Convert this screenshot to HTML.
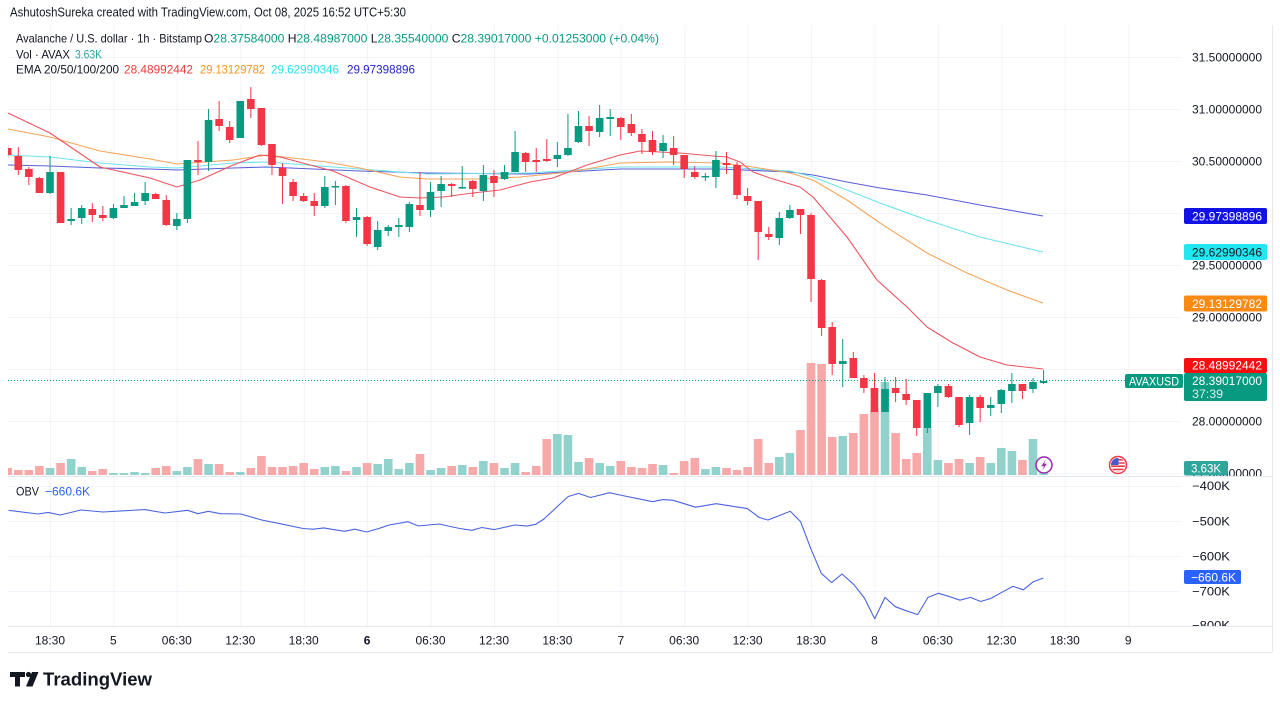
<!DOCTYPE html>
<html><head><meta charset="utf-8"><style>
html,body{margin:0;padding:0;background:#fff;width:1280px;height:706px;overflow:hidden}
svg{display:block;font-family:"Liberation Sans",Arial,sans-serif}
</style></head><body>
<svg width="1280" height="706" viewBox="0 0 1280 706" xmlns="http://www.w3.org/2000/svg">
<defs>
<clipPath id="mp"><rect x="8" y="25" width="1172" height="451"/></clipPath>
<clipPath id="op"><rect x="8" y="477" width="1172" height="149"/></clipPath>
<clipPath id="fl"><circle cx="1118" cy="465" r="7"/></clipPath>
</defs>
<rect width="1280" height="706" fill="#fff"/>
<!-- gridlines -->
<g stroke="#f0f3fa" stroke-width="1">
<path d="M8,57.5H1180M8,109.5H1180M8,161.5H1180M8,213.5H1180M8,265.5H1180M8,317.5H1180M8,369.5H1180M8,421.5H1180M8,473.5H1180"/>
<path d="M8,486.5H1180M8,521.5H1180M8,556.5H1180M8,591.5H1180"/>
<path d="M50.5,25V626M113.9,25V626M177.3,25V626M240.8,25V626M304.2,25V626M367.6,25V626M431,25V626M494.5,25V626M557.9,25V626M621.3,25V626M684.7,25V626M748.1,25V626M811.6,25V626M875,25V626M938.4,25V626M1001.9,25V626M1065.3,25V626M1128.7,25V626"/>
</g>
<g stroke="#e6e9ef" stroke-width="1">
<path d="M8,626.5H1272"/>
<path d="M8,476.5H1272"/>
<path d="M1272.5,25V652"/>
<path d="M8,652.5H1272"/>
</g>
<!-- header -->
<text x="10" y="16.5" font-size="13" fill="#131722" textLength="396" lengthAdjust="spacingAndGlyphs">AshutoshSureka created with TradingView.com, Oct 08, 2025 16:52 UTC+5:30</text>
<text x="16" y="42.3" font-size="12" fill="#131722" textLength="186" lengthAdjust="spacingAndGlyphs">Avalanche / U.S. dollar · 1h · Bitstamp</text>
<text x="204" y="42.3" font-size="12" fill="#089981" textLength="455" lengthAdjust="spacingAndGlyphs"><tspan fill="#131722">O</tspan>28.37584000 <tspan fill="#131722">H</tspan>28.48987000 <tspan fill="#131722">L</tspan>28.35540000 <tspan fill="#131722">C</tspan>28.39017000 +0.01253000 (+0.04%)</text>
<text x="16" y="58.3" font-size="12" fill="#131722" textLength="54" lengthAdjust="spacingAndGlyphs">Vol · AVAX</text>
<text x="75" y="58.3" font-size="12" fill="#26a69a" textLength="27" lengthAdjust="spacingAndGlyphs">3.63K</text>
<text x="16" y="73.3" font-size="12" fill="#131722" textLength="103" lengthAdjust="spacingAndGlyphs">EMA 20/50/100/200</text>
<text x="124" y="73.3" font-size="12" fill="#f23a3a" textLength="69" lengthAdjust="spacingAndGlyphs">28.48992442</text>
<text x="200" y="73.3" font-size="12" fill="#f7941d" textLength="65" lengthAdjust="spacingAndGlyphs">29.13129782</text>
<text x="271" y="73.3" font-size="12" fill="#2ee0ea" textLength="68" lengthAdjust="spacingAndGlyphs">29.62990346</text>
<text x="347" y="73.3" font-size="12" fill="#2424cc" textLength="68" lengthAdjust="spacingAndGlyphs">29.97398896</text>

<g clip-path="url(#mp)">
<!-- volume green -->
<path fill="#92d2cc" d="M45.7,468h8.6V475h-8.6zM66.84,459h8.6V475h-8.6zM77.41,467h8.6V475h-8.6zM109.12,473h8.6V475h-8.6zM119.69,473h8.6V475h-8.6zM130.26,472h8.6V475h-8.6zM140.83,473h8.6V475h-8.6zM172.54,471h8.6V475h-8.6zM183.11,467h8.6V475h-8.6zM204.25,464h8.6V475h-8.6zM235.96,472h8.6V475h-8.6zM320.52,467h8.6V475h-8.6zM331.09,466h8.6V475h-8.6zM352.23,467h8.6V475h-8.6zM373.37,464h8.6V475h-8.6zM383.94,459h8.6V475h-8.6zM394.51,469h8.6V475h-8.6zM405.08,463h8.6V475h-8.6zM426.22,470h8.6V475h-8.6zM436.79,468h8.6V475h-8.6zM457.93,465h8.6V475h-8.6zM479.07,461h8.6V475h-8.6zM500.21,468h8.6V475h-8.6zM510.78,463h8.6V475h-8.6zM553.06,434h8.6V475h-8.6zM563.63,435h8.6V475h-8.6zM574.2,462h8.6V475h-8.6zM595.34,463h8.6V475h-8.6zM605.91,466h8.6V475h-8.6zM658.76,465h8.6V475h-8.6zM701.04,469h8.6V475h-8.6zM711.61,467h8.6V475h-8.6zM775.03,457h8.6V475h-8.6zM785.6,453h8.6V475h-8.6zM838.45,436h8.6V475h-8.6zM880.73,382h8.6V475h-8.6zM923.01,428h8.6V475h-8.6zM933.58,460h8.6V475h-8.6zM965.29,463h8.6V475h-8.6zM986.43,463h8.6V475h-8.6zM997,448h8.6V475h-8.6zM1007.57,451h8.6V475h-8.6zM1028.71,439h8.6V475h-8.6zM1039.28,472h8.6V475h-8.6z"/>
<!-- volume red -->
<path fill="#f7a8a8" d="M3.42,468h8.6V475h-8.6zM13.99,470h8.6V475h-8.6zM24.56,470h8.6V475h-8.6zM35.13,466h8.6V475h-8.6zM56.27,463h8.6V475h-8.6zM87.98,471h8.6V475h-8.6zM98.55,469h8.6V475h-8.6zM151.4,468h8.6V475h-8.6zM161.97,466h8.6V475h-8.6zM193.68,459h8.6V475h-8.6zM214.82,464h8.6V475h-8.6zM225.39,472h8.6V475h-8.6zM246.53,468h8.6V475h-8.6zM257.1,456h8.6V475h-8.6zM267.67,467h8.6V475h-8.6zM278.24,467h8.6V475h-8.6zM288.81,466h8.6V475h-8.6zM299.38,463h8.6V475h-8.6zM309.95,469h8.6V475h-8.6zM341.66,471h8.6V475h-8.6zM362.8,463h8.6V475h-8.6zM415.65,454h8.6V475h-8.6zM447.36,466h8.6V475h-8.6zM468.5,467h8.6V475h-8.6zM489.64,463h8.6V475h-8.6zM521.35,472h8.6V475h-8.6zM531.92,466h8.6V475h-8.6zM542.49,439h8.6V475h-8.6zM584.77,458h8.6V475h-8.6zM616.48,461h8.6V475h-8.6zM627.05,467h8.6V475h-8.6zM637.62,468h8.6V475h-8.6zM648.19,464h8.6V475h-8.6zM669.33,473h8.6V475h-8.6zM679.9,461h8.6V475h-8.6zM690.47,458h8.6V475h-8.6zM722.18,468h8.6V475h-8.6zM732.75,470h8.6V475h-8.6zM743.32,467h8.6V475h-8.6zM753.89,439h8.6V475h-8.6zM764.46,463h8.6V475h-8.6zM796.17,430h8.6V475h-8.6zM806.74,363h8.6V475h-8.6zM817.31,364h8.6V475h-8.6zM827.88,437h8.6V475h-8.6zM849.02,433h8.6V475h-8.6zM859.59,414h8.6V475h-8.6zM870.16,411h8.6V475h-8.6zM891.3,433h8.6V475h-8.6zM901.87,459h8.6V475h-8.6zM912.44,453h8.6V475h-8.6zM944.15,463h8.6V475h-8.6zM954.72,459h8.6V475h-8.6zM975.86,457h8.6V475h-8.6zM1018.14,460h8.6V475h-8.6z"/>
<!-- EMA lines -->
<g fill="none" stroke-width="1.1" stroke-linejoin="round">
<polyline stroke="#5a5ed8" points="8,165 50,166 100,168 150,169 177,170 233,168 267,167 360,171 427,173 530,174 620,169 720,169 790,172 813,175 847,182 880,188 927,195 980,205 1043,216"/>
<polyline stroke="#6fe2ec" points="8,155 50,157 100,163 150,167 177,168 233,163 267,162 360,169 427,174 530,173 620,167 720,167 790,171 813,177 847,190 880,203 927,220 980,237 1043,252"/>
<polyline stroke="#f5a55a" points="8,129 50,137 100,151 150,159 177,164 233,160 267,155 327,162 360,168 400,177 427,179 477,179 520,177 570,172 620,163 670,162 720,163 753,167 790,173 813,180 847,200 880,223 927,253 967,273 1007,290 1043,303"/>
<polyline stroke="#ee5560" points="8,113 50,133 100,167 150,178 177,187 200,180 233,165 260,155 280,157 333,171 370,187 400,197 420,198 443,197 473,193 500,190 530,182 553,178 587,165 620,155 640,151 660,152 680,153 713,156 727,157 740,162 753,172 770,178 790,184 800,187 813,197 847,237 877,280 907,307 927,327 953,343 980,357 1007,365 1043,369"/>
</g>
<!-- price line -->
<path d="M8,380.5H1125" stroke="#089981" stroke-width="1" stroke-dasharray="1,2"/>
<!-- wicks -->
<path stroke="#089981" stroke-width="1" d="M50,156V194M71.14,208V225M81.71,205V224M113.42,204V219M123.99,196V208M134.56,193V206M145.13,182V205M176.84,213V230M187.41,160V223M208.55,109V171M240.26,101V138M324.82,176V208M335.39,181V205M356.53,208V237M377.67,221V250M388.24,225V236M398.81,218V237M409.38,202V232M430.52,182V217M441.09,176V207M462.23,166V189M483.37,165V201M504.51,165V180M515.08,131V172M557.36,142V167M567.93,114V156M578.5,111V143M599.64,105V137M610.21,109V136M663.06,135V158M705.34,173V181M715.91,151V188M779.33,212V245M789.9,205V219M842.75,339V387M885.03,377V412M927.31,393V433M937.88,384V407M969.59,395V435M990.73,397V416M1001.3,389V413M1011.87,373V403M1033.01,378V393M1043.58,370V384"/>
<path stroke="#f23645" stroke-width="1" d="M7.72,145V158M18.29,147V175M28.86,167V185M39.43,177V193M60.57,172V223M92.28,203V222M102.85,206V221M155.7,193V199M166.27,195V226M197.98,141V175M219.12,101V131M229.69,121V143M250.83,87V118M261.4,108V146M271.97,144V175M282.54,163V204M293.11,179V201M303.68,193V202M314.25,193V216M345.96,185V223M367.1,216V246M419.95,172V216M451.66,183V197M472.8,180V197M493.94,170V197M525.65,152V172M536.22,148V172M546.79,139V162M589.07,116V146M620.78,117V140M631.35,114V136M641.92,129V154M652.49,131V155M673.63,136V165M684.2,155V178M694.77,166V179M726.48,152V174M737.05,162V199M747.62,188V205M758.19,201V260M768.76,227V240M800.47,209V234M811.04,213V302M821.61,279V336M832.18,322V375M853.32,352V378M863.89,375V393M874.46,373V412M895.6,377V402M906.17,379V405M916.74,400V436M948.45,384V398M959.02,397V427M980.16,395V422M1022.44,384V399"/>
<!-- bodies -->
<path fill="#089981" d="M46.2,172h7.6v21h-7.6zM67.34,219h7.6v2h-7.6zM77.91,208h7.6v10h-7.6zM109.62,208h7.6v10h-7.6zM120.19,205h7.6v3h-7.6zM130.76,202h7.6v4h-7.6zM141.33,193h7.6v8h-7.6zM173.04,219h7.6v7h-7.6zM183.61,160h7.6v59h-7.6zM204.75,120h7.6v42h-7.6zM236.46,101h7.6v37h-7.6zM321.02,187h7.6v19h-7.6zM331.59,186h7.6v1.5h-7.6zM352.73,217h7.6v3h-7.6zM373.87,230h7.6v17h-7.6zM384.44,227h7.6v4h-7.6zM395.01,225h7.6v2h-7.6zM405.58,204h7.6v23h-7.6zM426.72,192h7.6v18h-7.6zM437.29,184h7.6v7h-7.6zM458.43,187h7.6v1.5h-7.6zM479.57,175h7.6v16h-7.6zM500.71,172h7.6v7h-7.6zM511.28,152h7.6v20h-7.6zM553.56,155h7.6v4h-7.6zM564.13,148h7.6v7h-7.6zM574.7,126h7.6v16h-7.6zM595.84,118h7.6v14h-7.6zM606.41,117h7.6v2h-7.6zM659.26,143h7.6v8h-7.6zM701.54,176h7.6v1.5h-7.6zM712.11,160h7.6v17h-7.6zM775.53,218h7.6v20h-7.6zM786.1,210h7.6v8h-7.6zM838.95,361h7.6v3h-7.6zM881.23,389h7.6v23h-7.6zM923.51,393h7.6v35h-7.6zM934.08,386h7.6v7h-7.6zM965.79,397h7.6v26h-7.6zM986.93,405h7.6v3h-7.6zM997.5,390h7.6v14h-7.6zM1008.07,384h7.6v7h-7.6zM1029.21,382h7.6v7h-7.6zM1039.78,381h7.6v2h-7.6z"/>
<path fill="#f23645" d="M3.92,148h7.6v7h-7.6zM14.49,156h7.6v14h-7.6zM25.06,169h7.6v8h-7.6zM35.63,178h7.6v15h-7.6zM56.77,172h7.6v51h-7.6zM88.48,209h7.6v6h-7.6zM99.05,215h7.6v3h-7.6zM151.9,194h7.6v5h-7.6zM162.47,200h7.6v25h-7.6zM194.18,160h7.6v2h-7.6zM215.32,119h7.6v7h-7.6zM225.89,127h7.6v13h-7.6zM247.03,99h7.6v10h-7.6zM257.6,108h7.6v37h-7.6zM268.17,144h7.6v21h-7.6zM278.74,168h7.6v8h-7.6zM289.31,182h7.6v14h-7.6zM299.88,196h7.6v5h-7.6zM310.45,201h7.6v5h-7.6zM342.16,186h7.6v35h-7.6zM363.3,217h7.6v27h-7.6zM416.15,205h7.6v5h-7.6zM447.86,184h7.6v2h-7.6zM469,181h7.6v8h-7.6zM490.14,176h7.6v7h-7.6zM521.85,153h7.6v9h-7.6zM532.42,160h7.6v2h-7.6zM542.99,159h7.6v2h-7.6zM585.27,126h7.6v5h-7.6zM616.98,118h7.6v9h-7.6zM627.55,124h7.6v9h-7.6zM638.12,134h7.6v8h-7.6zM648.69,140h7.6v12h-7.6zM669.83,148h7.6v7h-7.6zM680.4,155h7.6v14h-7.6zM690.97,172h7.6v5h-7.6zM722.68,163h7.6v2h-7.6zM733.25,165h7.6v30h-7.6zM743.82,196h7.6v5h-7.6zM754.39,201h7.6v31h-7.6zM764.96,234h7.6v3h-7.6zM796.67,209h7.6v6h-7.6zM807.24,215h7.6v64h-7.6zM817.81,280h7.6v48h-7.6zM828.38,327h7.6v37h-7.6zM849.52,358h7.6v20h-7.6zM860.09,378h7.6v10h-7.6zM870.66,388h7.6v24h-7.6zM891.8,388h7.6v5h-7.6zM902.37,394h7.6v6h-7.6zM912.94,400h7.6v28h-7.6zM944.65,386h7.6v11h-7.6zM955.22,397h7.6v28h-7.6zM976.36,397h7.6v11h-7.6zM1018.64,384h7.6v7h-7.6z"/>
<!-- icons -->
<circle cx="1044" cy="465" r="8" fill="#fff" stroke="#9c27b0" stroke-width="1.5"/>
<path d="M1045.8,459.5L1041.3,466.2H1044L1042.3,470.6L1046.8,463.8H1044.2Z" fill="#9c27b0"/>
<circle cx="1118" cy="465" r="8.5" fill="#fff" stroke="#f23645" stroke-width="1.5"/>
<g clip-path="url(#fl)">
<path d="M1110,459h16v1.6h-16zM1110,462.2h16v1.6h-16zM1110,465.4h16v1.6h-16zM1110,468.6h16v1.6h-16zM1110,471.8h16v1.6h-16z" fill="#f23645"/>
<rect x="1110" y="457" width="8.5" height="8" fill="#3f5bd0"/>
</g>
</g>

<!-- main price axis labels -->
<g font-size="12" fill="#131722">
<text x="1192" y="61.3" textLength="70" lengthAdjust="spacingAndGlyphs">31.50000000</text>
<text x="1192" y="113.3" textLength="70" lengthAdjust="spacingAndGlyphs">31.00000000</text>
<text x="1192" y="165.3" textLength="70" lengthAdjust="spacingAndGlyphs">30.50000000</text>
<text x="1192" y="269.3" textLength="70" lengthAdjust="spacingAndGlyphs">29.50000000</text>
<text x="1192" y="321.3" textLength="70" lengthAdjust="spacingAndGlyphs">29.00000000</text>
<text x="1192" y="425.3" textLength="70" lengthAdjust="spacingAndGlyphs">28.00000000</text>
</g>
<svg x="1180" y="440" width="100" height="36"><text x="12" y="37.3" font-size="12" fill="#131722" textLength="70" lengthAdjust="spacingAndGlyphs">27.50000000</text></svg>
<!-- boxes -->
<rect x="1184" y="208" width="83" height="16" rx="2" fill="#1212e6"/>
<text x="1192" y="220.3" font-size="12" fill="#fff" textLength="70" lengthAdjust="spacingAndGlyphs">29.97398896</text>
<rect x="1184" y="244" width="83" height="16" rx="2" fill="#22e6f0"/>
<text x="1192" y="256.3" font-size="12" fill="#131722" textLength="70" lengthAdjust="spacingAndGlyphs">29.62990346</text>
<rect x="1184" y="295.5" width="83" height="16" rx="2" fill="#f98a14"/>
<text x="1192" y="307.8" font-size="12" fill="#fff" textLength="70" lengthAdjust="spacingAndGlyphs">29.13129782</text>
<rect x="1184" y="358" width="83" height="15" rx="2" fill="#f70f0f"/>
<text x="1192" y="369.5" font-size="12" fill="#fff" textLength="70" lengthAdjust="spacingAndGlyphs">28.48992442</text>
<rect x="1184" y="373" width="83" height="28" rx="2" fill="#089981"/>
<text x="1192" y="384.8" font-size="12" fill="#fff" textLength="70" lengthAdjust="spacingAndGlyphs">28.39017000</text>
<text x="1192" y="398" font-size="12" fill="#d8f0ec" textLength="31" lengthAdjust="spacingAndGlyphs">37:39</text>
<rect x="1125" y="374" width="58" height="14" rx="2" fill="#089981"/>
<text x="1129" y="385.3" font-size="12" fill="#fff" textLength="50" lengthAdjust="spacingAndGlyphs">AVAXUSD</text>
<rect x="1184" y="461" width="44" height="14.5" rx="2" fill="#2ea69b"/>
<text x="1191" y="472.5" font-size="12" fill="#fff" textLength="30" lengthAdjust="spacingAndGlyphs">3.63K</text>

<!-- OBV pane -->
<text x="16" y="495.3" font-size="12" fill="#131722" textLength="23" lengthAdjust="spacingAndGlyphs">OBV</text>
<text x="45" y="495.3" font-size="12" fill="#2962ff" textLength="45" lengthAdjust="spacingAndGlyphs">−660.6K</text>
<g clip-path="url(#op)">
<polyline fill="none" stroke="#4a64e0" stroke-width="1.1" stroke-linejoin="round" points="8.6,510.3 37.9,514 48.2,512.4 60.3,515 81,510 103,512 144.6,509.6 165,513 187.7,510.3 198,513.7 208.3,511.3 220.4,513.7 241,514 261.7,520 279,523.4 303,528.5 313.4,529.2 323.7,527.9 344.4,531.3 354.7,529.2 366.7,532 378.8,528.5 389,525 408,521.7 418.4,526 439,524 459.7,528.5 471.8,530.3 482,527.5 494,529.6 514.8,525 526.9,526.1 535.5,524.4 544,519 557.9,506 568.2,496.5 578.5,493.4 590.6,497.5 609.5,492.7 619.9,495 652.6,501.7 663,499.6 673.2,500.3 695.6,507.2 716.3,503.7 747.3,508.6 759.3,517.5 768,520 790.3,511.3 800.6,521.7 811,549.2 821.3,573.3 831.6,582.6 842,574 854,584.7 864.4,598 874.7,618.8 885,597.4 895.3,606.7 907.4,611.2 917.7,614.6 928,597.4 938.4,593.3 948.7,596.4 960,600.2 970.4,597.4 980.7,601.5 991,598.4 1002,592.2 1013,586.4 1023.4,589.8 1033,581.9 1043.4,578"/>
</g>
<g font-size="12" fill="#131722">
<text x="1192" y="490" textLength="38" lengthAdjust="spacingAndGlyphs">−400K</text>
<text x="1192" y="525.3" textLength="38" lengthAdjust="spacingAndGlyphs">−500K</text>
<text x="1192" y="560.3" textLength="38" lengthAdjust="spacingAndGlyphs">−600K</text>
<text x="1192" y="595.3" textLength="38" lengthAdjust="spacingAndGlyphs">−700K</text>
</g>
<svg x="1180" y="610" width="100" height="16"><text x="12" y="19.5" font-size="12" fill="#131722" textLength="38" lengthAdjust="spacingAndGlyphs">−800K</text></svg>
<rect x="1184" y="570" width="57" height="14" rx="2" fill="#2962ff"/>
<text x="1191" y="581.3" font-size="12" fill="#fff" textLength="45" lengthAdjust="spacingAndGlyphs">−660.6K</text>

<!-- time axis -->
<g font-size="12" fill="#131722" text-anchor="middle">
<text x="50" y="644.5">18:30</text>
<text x="113.4" y="644.5">5</text>
<text x="176.8" y="644.5">06:30</text>
<text x="240.3" y="644.5">12:30</text>
<text x="303.7" y="644.5">18:30</text>
<text x="367.1" y="644.5" font-weight="bold">6</text>
<text x="430.5" y="644.5">06:30</text>
<text x="494" y="644.5">12:30</text>
<text x="557.4" y="644.5">18:30</text>
<text x="620.8" y="644.5">7</text>
<text x="684.2" y="644.5">06:30</text>
<text x="747.6" y="644.5">12:30</text>
<text x="811.1" y="644.5">18:30</text>
<text x="874.5" y="644.5">8</text>
<text x="937.9" y="644.5">06:30</text>
<text x="1001.4" y="644.5">12:30</text>
<text x="1064.8" y="644.5">18:30</text>
<text x="1128.2" y="644.5">9</text>
</g>

<!-- TradingView logo -->
<g fill="#131722">
<path d="M10,672h15v5h-5v9.5h-5v-9.5h-5z"/>
<circle cx="28.5" cy="674.5" r="2.6"/>
<path d="M32,672h6.5l-6,14.5h-6.5z"/>
</g>
<text x="43" y="685.5" font-size="18.5" font-weight="bold" fill="#131722" textLength="109" lengthAdjust="spacingAndGlyphs">TradingView</text>
</svg>
</body></html>
